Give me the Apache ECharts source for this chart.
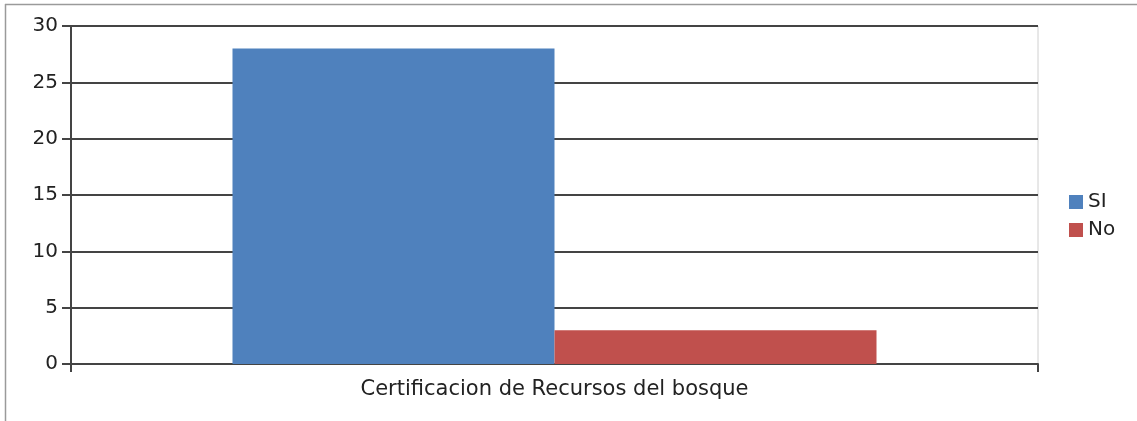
<!DOCTYPE html>
<html>
<head>
<meta charset="utf-8">
<script src="https://cdn.jsdelivr.net/npm/echarts@6/dist/echarts.min.js"></script>
<style>
html,body{margin:0;padding:0;background:#fff;}
#c{width:1137px;height:421px;}
</style>
</head>
<body>
<div id="c"></div>
<script>
const categories = ['Certificacion de Recursos del bosque'];
const seriesNames = ['SI', 'No'];
const siValues = [28];
const noValues = [3];
const yTicks = { min: 0, max: 30, interval: 5 };

const chart = echarts.init(document.getElementById('c'), null, { renderer: 'canvas' });
const font = 'DejaVu Sans';
chart.setOption({
  animation: false,
  backgroundColor: '#fff',
  graphic: [
    { type: 'line', shape: { x1: 5, y1: 4.5, x2: 1137, y2: 4.5 }, style: { stroke: '#9a9a9a', lineWidth: 1.5 } },
    { type: 'line', shape: { x1: 5.5, y1: 4, x2: 5.5, y2: 421 }, style: { stroke: '#9a9a9a', lineWidth: 1.5 } }
  ],
  grid: {
    left: 71, right: 99, top: 26, bottom: 57,
    show: true, borderColor: '#d0d0d0', borderWidth: 1
  },
  legend: {
    data: seriesNames,
    orient: 'vertical',
    left: 1064, top: 187,
    itemWidth: 14, itemHeight: 14, itemGap: 8,
    icon: 'rect',
    textStyle: { fontFamily: font, fontSize: 20, color: '#222', padding: [0, 0, 0, 0] }
  },
  xAxis: {
    type: 'category',
    data: categories,
    axisLine: { lineStyle: { color: '#444', width: 2 } },
    axisTick: { show: true, length: 8, lineStyle: { color: '#444', width: 2 } },
    axisLabel: { fontFamily: font, fontSize: 21, color: '#222', margin: 15 }
  },
  yAxis: {
    type: 'value',
    min: yTicks.min, max: yTicks.max, interval: yTicks.interval,
    axisLine: { show: true, lineStyle: { color: '#444', width: 2 } },
    axisTick: { show: true, length: 9, lineStyle: { color: '#444', width: 2 } },
    splitLine: { lineStyle: { color: '#444', width: 2 } },
    axisLabel: { fontFamily: font, fontSize: 20, color: '#222', margin: 13 }
  },
  series: [
    { name: seriesNames[0], type: 'bar', data: siValues, barGap: '0%', barCategoryGap: '33.4%', itemStyle: { color: '#4F81BD' } },
    { name: seriesNames[1], type: 'bar', data: noValues, barGap: '0%', barCategoryGap: '33.4%', itemStyle: { color: '#C0504D' } }
  ]
});
</script>
</body>
</html>
